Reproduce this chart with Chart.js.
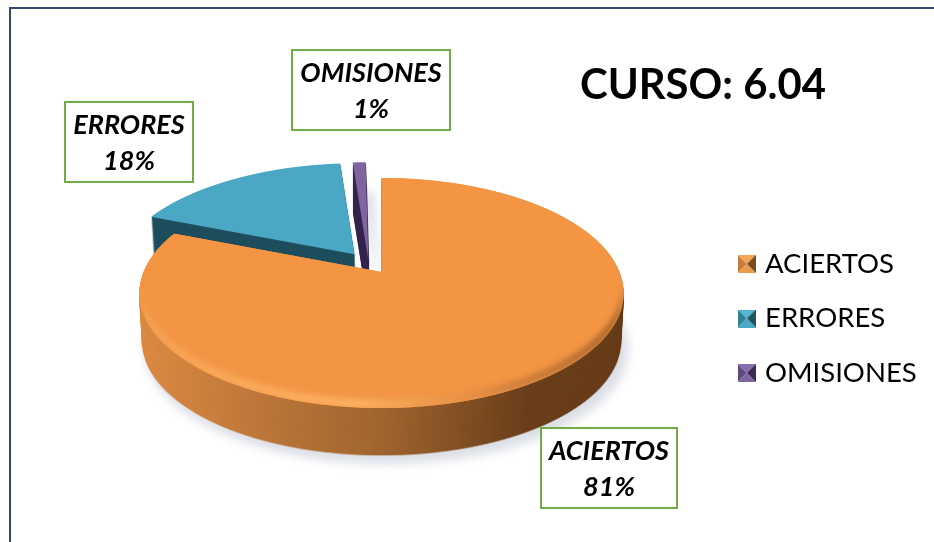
<!DOCTYPE html>
<html><head><meta charset="utf-8">
<style>html,body{margin:0;padding:0;background:#fff;overflow:hidden}#w{width:934px;height:542px;position:relative}canvas{display:block}</style>
<script src="https://cdn.jsdelivr.net/npm/chart.js@4"></script>
</head><body><div id="w"><canvas id="c" width="934" height="542"></canvas></div>
<script>
const categories = ['ACIERTOS', 'ERRORES', 'OMISIONES'];
const values = [81, 17.6, 1.4];
const titleText = 'CURSO: 6.04';
const faceColors = ['#F39543', '#4AA8C4', '#8064A2'];
const cutColors = ['#6B3F1A', '#1F4E5E', '#36264F'];
const sliceOffsets = [0, 131, 77];
const sliceNudgeX = [0, -2, -12];
const sliceNudgeY = [0, -2, 0];
const iconColors = [
  ['#F9A354', '#C67C3A', '#7E4C22', '#EE9A4E'],
  ['#52B6D2', '#2F8197', '#1F5463', '#4AA8C4'],
  ['#8A6EAD', '#5F4A80', '#3A2A55', '#7F64A0']
];

const W = 934, H = 542;
// perspective of the pie plane
const AX = 381.5, AY = 272, PA = 238, PB = 111.2, PK = 0.1826, DEPTH = 49;

function mk() { const c = document.createElement('canvas'); c.width = W; c.height = H; return c; }

function renderFace(el, R, nudgeX, nudgeY) {
  const c = mk(), ctx = c.getContext('2d');
  const cx = el.x, cy = el.y;
  for (let Y = 140; Y < 430; Y++) {
    const dy = AY - (Y + 0.5), den = PB - PK * dy;
    const v = dy / den, w = 1 + PK * v;
    const a = (PA / R) / w, d = (PB / R) / (w * w);
    const sy = cy - v * R;
    ctx.save();
    ctx.beginPath(); ctx.rect(0, Y, W, 1); ctx.clip();
    ctx.setTransform(a, 0, 0, d, AX + nudgeX - a * cx, (Y + 0.5 + nudgeY) - d * sy);
    el.draw(ctx);
    ctx.restore();
  }
  return c;
}
function tint(src, fill) {
  const c = mk(), ctx = c.getContext('2d');
  ctx.drawImage(src, 0, 0);
  ctx.globalCompositeOperation = 'source-in';
  ctx.fillStyle = fill; ctx.fillRect(0, 0, W, H);
  return c;
}
function stamp(ctx, tex, d) {
  const s = 1 - 0.012 * d / DEPTH;
  ctx.drawImage(tex, AX * (1 - s), AY * (1 - s) + d, W * s, H * s);
}
function orangeSide(ctx) {
  const g = ctx.createLinearGradient(140, 0, 624, 0);
  g.addColorStop(0, '#DC8B44');
  g.addColorStop(0.25, '#BC773A');
  g.addColorStop(0.5, '#A0652F');
  g.addColorStop(0.7, '#7C4C22');
  g.addColorStop(0.8, '#6A3F1B');
  g.addColorStop(1, '#683D1A');
  return g;
}

const pie3d = {
  id: 'pie3d',
  beforeDraw(chart) {
    const ctx = chart.ctx;
    ctx.save();
    ctx.fillStyle = '#fff'; ctx.fillRect(0, 0, W, H);
    ctx.strokeStyle = '#2A4A72'; ctx.lineWidth = 2;
    ctx.beginPath(); ctx.moveTo(10, H); ctx.lineTo(10, 8); ctx.lineTo(W, 8); ctx.stroke();
    ctx.restore();
  },
  afterLayout(chart) {
    const lg = chart.legend;
    lg.left = 715.25; lg.right = W; lg.top = 223.25; lg.bottom = H;
    const t = chart.titleBlock;
    t.left = 580; t.right = 826; t.top = 60; t.bottom = 110;
  },
  beforeDatasetsDraw(chart) {
    const ctx = chart.ctx, els = chart.getDatasetMeta(0).data;
    const R = els[0].outerRadius;
    const faces = els.map((el, i) => renderFace(el, R, sliceNudgeX[i], sliceNudgeY[i]));
    // soft shadow
    ctx.save();
    ctx.filter = 'blur(5px)';
    ctx.globalAlpha = 0.9;
    faces.forEach((f, i) => ctx.drawImage(tint(f, '#D9DCE4'), i === 2 ? 9 : 5, i === 2 ? 30 : DEPTH + 7));
    ctx.restore();
    // back slices first, the large slice in front
    [2, 1, 0].forEach(i => {
      const tex = tint(faces[i], i === 0 ? orangeSide(ctx) : cutColors[i]);
      for (let d = DEPTH; d >= 1; d--) stamp(ctx, tex, d);
      ctx.drawImage(faces[i], 0, 0);
      if (i === 0) {
        // bevel along the front rim of the big slice
        const band = mk(), b = band.getContext('2d');
        const g = b.createLinearGradient(140, 0, 624, 0);
        g.addColorStop(0, '#F7A65A');
        g.addColorStop(0.45, '#FFB565');
        g.addColorStop(0.7, '#E08A42');
        g.addColorStop(0.92, '#A8642C');
        g.addColorStop(1, '#7A4A20');
        b.drawImage(tint(faces[0], g), 0, 0);
        b.globalCompositeOperation = 'destination-out';
        b.drawImage(faces[0], 0, -8);
        const lay = mk(), l = lay.getContext('2d');
        l.drawImage(faces[0], 0, 0);
        l.globalCompositeOperation = 'source-atop';
        l.filter = 'blur(3px)';
        l.drawImage(band, 0, 0);
        ctx.drawImage(lay, 0, 0);
      }
    });
    return false;
  },
  afterDraw(chart) {
    const ctx = chart.ctx;
    const boxes = [[541, 428, 136, 80], [65, 102, 128, 80], [292, 50, 158, 80]];
    ctx.save();
    boxes.forEach((b, i) => {
      ctx.fillStyle = '#fff'; ctx.fillRect(b[0], b[1], b[2], b[3]);
      ctx.strokeStyle = '#70AD47'; ctx.lineWidth = 2;
      ctx.strokeRect(b[0], b[1], b[2], b[3]);
      ctx.fillStyle = '#000';
      ctx.font = 'italic bold 27px Lato';
      ctx.textAlign = 'center'; ctx.textBaseline = 'middle';
      const x = b[0] + b[2] / 2;
      ctx.fillText(categories[i], x, b[1] + 23);
      ctx.fillText(Math.round(values[i]) + '%', x, b[1] + 59);
    });
    ctx.restore();
  }
};

function icon(cols) {
  const c = document.createElement('canvas'); c.width = 18; c.height = 18;
  const x = c.getContext('2d');
  const tri = (a, b, col) => {
    x.fillStyle = col; x.beginPath(); x.moveTo(a[0], a[1]); x.lineTo(b[0], b[1]); x.lineTo(9, 9); x.closePath(); x.fill();
  };
  tri([0, 0], [18, 0], cols[0]);
  tri([0, 0], [0, 18], cols[1]);
  tri([18, 0], [18, 18], cols[2]);
  tri([0, 18], [18, 18], cols[3]);
  return c;
}

new Chart(document.getElementById('c'), {
  type: 'pie',
  data: {
    labels: categories,
    datasets: [{ data: values, backgroundColor: faceColors, borderWidth: 0, offset: sliceOffsets }]
  },
  options: {
    responsive: false,
    animation: false,
    events: [],
    plugins: {
      tooltip: { enabled: false },
      title: { display: true, text: titleText, color: '#000', font: { family: 'Lato', size: 42.2, weight: 'bold' }, padding: 0 },
      legend: {
        position: 'right',
        align: 'start',
        labels: {
          color: '#000',
          font: { family: 'Lato', size: 27.5 },
          usePointStyle: true,
          boxWidth: 9,
          padding: 27,
          generateLabels(chart) {
            return categories.map((t, i) => ({
              text: t, fillStyle: faceColors[i], strokeStyle: faceColors[i], lineWidth: 0,
              pointStyle: icon(iconColors[i]), index: i, hidden: false
            }));
          }
        }
      }
    }
  },
  plugins: [pie3d]
});
</script></body></html>
